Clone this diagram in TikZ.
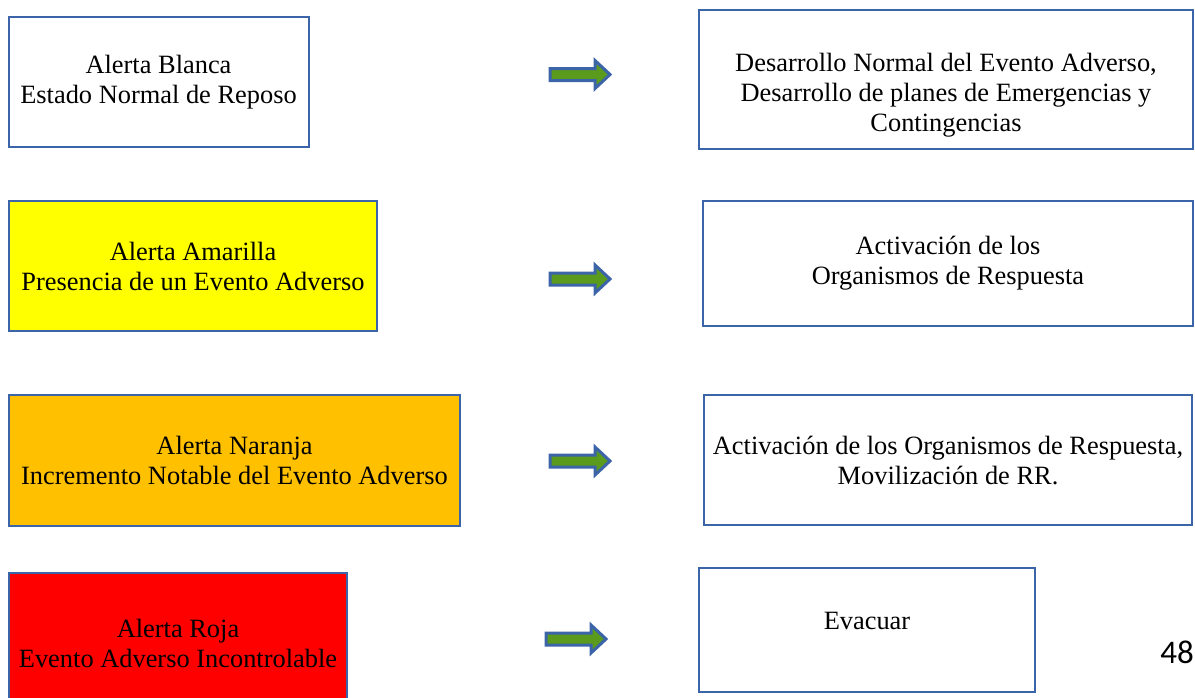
\documentclass[tikz,border=0pt]{standalone}
\usepackage{fontspec}
\setmainfont{Liberation Serif}
\newfontfamily\numfont{Carlito}
\definecolor{borde}{RGB}{60,100,168}
\definecolor{amarillo}{RGB}{255,255,0}
\definecolor{naranja}{RGB}{255,192,0}
\definecolor{rojo}{RGB}{255,0,0}
\definecolor{verde}{RGB}{90,154,28}
\tikzset{
	caja/.style={draw=borde, line width=1pt, rectangle, inner sep=0pt, align=center, font=\fontsize{13.2}{15}\selectfont},
	texto/.style={inner sep=0pt, align=center, font=\fontsize{13.2}{15}\selectfont},
	flecha/.pic={\draw[draw=borde, line width=1.5pt, fill=verde] (0,-6) -- (45,-6) -- (45,-14) -- (60,0) -- (45,14) -- (45,6) -- (0,6) -- cycle;}
}
\begin{document}
\begin{tikzpicture}[x=0.5pt, y=-0.5pt]
	\clip (0,0) rectangle (1195,697);
	\fill[white] (0,0) rectangle (1195,697);
	% Alertas
		\node[caja, minimum width=150pt, minimum height=65pt] (blanca) at (158.5,82) {Alerta Blanca\\Estado Normal de Reposo};
		\node[caja, fill=amarillo, minimum width=184pt, minimum height=65pt] (amarilla) at (193,266) {Alerta Amarilla\\Presencia de un Evento Adverso};
		\node[caja, fill=naranja, minimum width=225.5pt, minimum height=65.5pt] (naranja) at (234.5,460.5) {Alerta Naranja\\Incremento Notable del Evento Adverso};
		\node[caja, fill=rojo, minimum width=169pt, minimum height=70pt] (roja) at (178,643) {Alerta Roja\\Evento Adverso Incontrolable};
	% Flechas
		\pic (f1) at (550,74.5) {flecha};
		\pic (f2) at (550,279) {flecha};
		\pic (f3) at (550,461) {flecha};
		\pic (f4) at (546,639) {flecha};
	% Acciones
		\node[caja, minimum width=247pt, minimum height=69.5pt] (normal) at (946,79.5) {};
		\node[texto] (normalt) at (946,95) {Desarrollo Normal del Evento Adverso,\\Desarrollo de planes de Emergencias y\\Contingencias};
		\node[caja, minimum width=245pt, minimum height=62.5pt] (activa) at (948,263.5) {Activación de los\\Organismos de Respuesta};
		\node[caja, minimum width=244pt, minimum height=65pt] (moviliza) at (948,460) {Activación de los Organismos de Respuesta,\\Movilización de RR.};
		\node[caja, minimum width=168pt, minimum height=62pt] (evacuar) at (867,630) {};
		\node[texto] (evacuart) at (867,621) {Evacuar};
	% Pagina
		\node[inner sep=0pt, anchor=base west, font=\numfont\fontsize{16.5}{18}\selectfont] (pagina) at (1160,663) {48};
\end{tikzpicture}
\end{document}
